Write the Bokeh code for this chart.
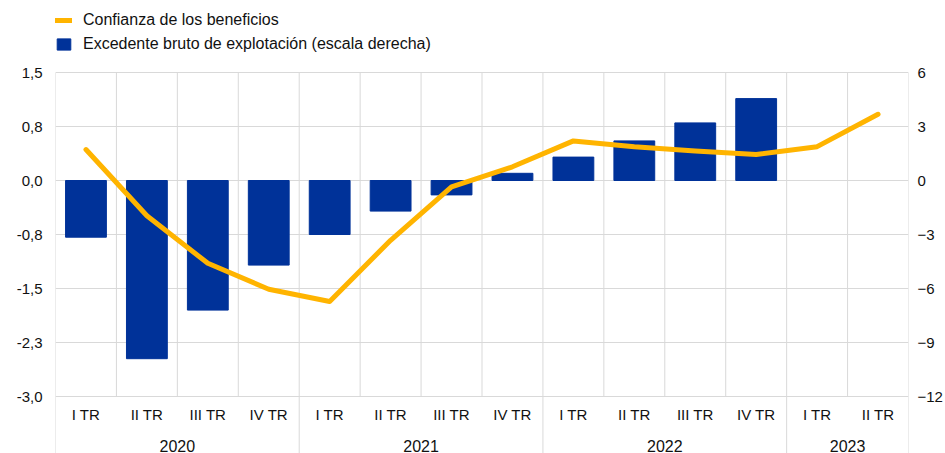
from bokeh.plotting import figure
from bokeh.models import (FactorRange, CategoricalAxis, LinearAxis, Range1d,
                          FixedTicker, Legend, LegendItem, ColumnDataSource)
from bokeh.embed import file_html
from bokeh.resources import INLINE

# ---------------- data ----------------
years = ["2020", "2020", "2020", "2020",
         "2021", "2021", "2021", "2021",
         "2022", "2022", "2022", "2022",
         "2023", "2023"]
quarters = ["I TR", "II TR", "III TR", "IV TR",
            "I TR", "II TR", "III TR", "IV TR",
            "I TR", "II TR", "III TR", "IV TR",
            "I TR", "II TR"]
# Confianza de los beneficios (left scale)
confianza = [0.43, -0.49, -1.15, -1.51, -1.68, -0.83, -0.09, 0.19,
             0.55, 0.47, 0.41, 0.36, 0.47, 0.92]
# Excedente bruto de explotación (right scale), available until 2022 IV TR
excedente = [-3.15, -9.9, -7.2, -4.7, -3.0, -1.7, -0.8, 0.4,
             1.3, 2.2, 3.2, 4.55]

left_ticks = [-3.0, -2.25, -1.5, -0.75, 0.0, 0.75, 1.5]
left_tick_labels = ["-3,0", "-2,3", "-1,5", "-0,8", "0,0", "0,8", "1,5"]
right_ticks = [-12, -9, -6, -3, 0, 3, 6]

series_names = ["Confianza de los beneficios",
                "Excedente bruto de explotación (escala derecha)"]

# ---------------- layout constants ----------------
FONT = "Liberation Sans"
TXT = "#111111"
GRID = "#d9d9d9"
W, H = 945, 453
Y_TOP_LINE = 72      # pixel of 1.5
Y_BOT_LINE = 396     # pixel of -3.0
ppu = (Y_BOT_LINE - Y_TOP_LINE) / (left_ticks[-1] - left_ticks[0])
left_end = left_ticks[-1] + Y_TOP_LINE / ppu
left_start = left_ticks[0] - (H - Y_BOT_LINE) / ppu
ratio = (right_ticks[-1] - right_ticks[0]) / (left_ticks[-1] - left_ticks[0])

factors = list(zip(years, quarters))
bar_factors = factors[:len(excedente)]

p = figure(width=W, height=H,
           x_range=FactorRange(factors=factors, factor_padding=0,
                               group_padding=0, range_padding=0),
           y_range=Range1d(left_start, left_end),
           x_axis_location=None,
           output_backend="svg", toolbar_location=None,
           min_border_left=55, min_border_right=37,
           min_border_top=0, min_border_bottom=0)
p.extra_y_ranges = {"right": Range1d(left_start * ratio, left_end * ratio)}
p.outline_line_color = None
p.background_fill_color = "white"
p.border_fill_color = "white"

# horizontal grid
p.ygrid.ticker = FixedTicker(ticks=left_ticks)
p.ygrid.grid_line_color = GRID
p.ygrid.grid_line_width = 1
p.xgrid.visible = False

# vertical boundaries between quarters / years
year_bounds = [0]
for i in range(1, len(years)):
    if years[i] != years[i - 1]:
        year_bounds.append(i)
year_bounds.append(len(years))
inner = [i for i in range(len(years) + 1) if i not in year_bounds]
p.segment(x0=inner, y0=[left_ticks[0]] * len(inner), x1=inner,
          y1=[left_ticks[-1]] * len(inner), line_color=GRID, line_width=1)
p.segment(x0=year_bounds, y0=[left_start] * len(year_bounds), x1=year_bounds,
          y1=[left_ticks[-1]] * len(year_bounds), line_color=GRID, line_width=1)

# bars (right scale)
bar_src = ColumnDataSource(dict(x=bar_factors, top=excedente))
bars = p.vbar(x="x", top="top", bottom=0, width=0.67, source=bar_src,
              fill_color="#003299", line_color="#003299", y_range_name="right")

# line (left scale)
line_src = ColumnDataSource(dict(x=factors, y=confianza))
ln = p.line(x="x", y="y", source=line_src, line_color="#FFB400", line_width=5,
            line_join="round", line_cap="round")

# left axis
ya = p.yaxis[0]
ya.ticker = FixedTicker(ticks=left_ticks)
ya.major_label_overrides = {t: l for t, l in zip(left_ticks, left_tick_labels)}
ya.axis_line_color = None
ya.major_tick_line_color = None
ya.minor_tick_line_color = None
ya.major_tick_out = 0
ya.major_label_standoff = 13
ya.major_label_text_font = FONT
ya.major_label_text_font_size = "15px"
ya.major_label_text_color = TXT

# right axis
ra = LinearAxis(y_range_name="right", ticker=FixedTicker(ticks=right_ticks))
ra.axis_line_color = None
ra.major_tick_line_color = None
ra.minor_tick_line_color = None
ra.major_tick_out = 0
ra.major_label_standoff = 9
ra.major_label_text_font = FONT
ra.major_label_text_font_size = "15px"
ra.major_label_text_color = TXT
p.add_layout(ra, "right")

# x axes: quarters and years, fixed at the -3.0 line
qa = CategoricalAxis(fixed_location=left_ticks[0])
qa.axis_line_color = None
qa.major_tick_line_color = None
qa.major_tick_out = 0
qa.separator_line_color = None
qa.major_label_standoff = 9
qa.major_label_text_font = FONT
qa.major_label_text_font_size = "15px"
qa.major_label_text_color = TXT
qa.group_text_color = None
p.add_layout(qa, "below")

ga = CategoricalAxis(fixed_location=left_ticks[0])
ga.axis_line_color = None
ga.major_tick_line_color = None
ga.major_tick_out = 0
ga.separator_line_color = None
ga.major_label_standoff = 43
ga.major_label_text_font = FONT
ga.major_label_text_font_size = "15px"
ga.major_label_text_color = None
ga.group_text_font = FONT
ga.group_text_font_size = "16px"
ga.group_text_font_style = "normal"
ga.group_text_color = TXT
p.add_layout(ga, "below")

# legend inside the (tall) frame, above the grid
LEG_H = 18 * 2 + 6
legend = Legend(items=[LegendItem(label=series_names[0], renderers=[ln]),
                       LegendItem(label=series_names[1], renderers=[bars])],
                location=(0, H - 11 - LEG_H),
                orientation="vertical",
                glyph_width=17, glyph_height=14, label_height=18,
                spacing=6, padding=0, margin=0, label_standoff=11,
                label_text_font=FONT, label_text_font_size="16px",
                label_text_color=TXT,
                background_fill_alpha=0, border_line_color=None)
p.add_layout(legend, "center")

open("out.html", "w").write(file_html(p, INLINE))
